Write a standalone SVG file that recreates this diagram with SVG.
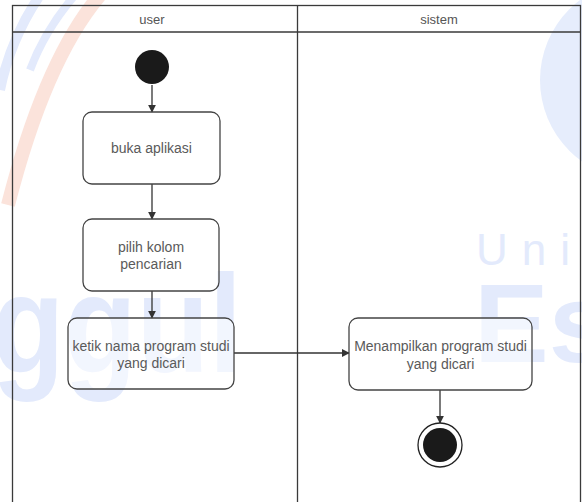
<svg xmlns="http://www.w3.org/2000/svg" width="582" height="502" viewBox="0 0 582 502">
<style>
.lane{fill:none;stroke:#3a3a3a;stroke-width:1.3}
.box{fill:#ffffff;fill-opacity:0.55;stroke:#444;stroke-width:1.3}
.t{font-family:"Liberation Sans",Arial,sans-serif;font-size:14px;fill:#5a5a5a;text-anchor:middle}
.h{font-family:"Liberation Sans",Arial,sans-serif;font-size:13px;fill:#555;text-anchor:middle}
.c{fill:none;stroke:#333;stroke-width:1.3}
.wm{font-family:"Liberation Sans",Arial,sans-serif;fill:#e3eafc}
</style>
<defs>
<marker id="arr" viewBox="0 0 10 10" refX="9" refY="5" markerWidth="8" markerHeight="8" markerUnits="userSpaceOnUse" orient="auto">
<path d="M0,0 L10,5 L0,10 z" fill="#333"/>
</marker>
</defs>
<rect width="582" height="502" fill="#ffffff"/>
<g id="watermark">
<circle cx="640" cy="80" r="100" fill="#e6edfc"/>
<path d="M100,-5 Q45,60 8,205" fill="none" stroke="#fbe3db" stroke-width="14"/>
<path d="M40,-5 Q10,40 0,90" fill="none" stroke="#e3eafc" stroke-width="10"/>
<path d="M75,-5 Q45,30 30,70" fill="none" stroke="#e3eafc" stroke-width="8"/>
<text class="wm" x="-8" y="372" font-size="140" font-weight="bold" textLength="250" lengthAdjust="spacingAndGlyphs">ggul</text>
<text class="wm" x="474" y="362" font-size="112" font-weight="bold">Es</text>
<text class="wm" x="476" y="265" font-size="44" letter-spacing="14">Univ</text>
</g>
<g id="lanes">
<rect class="lane" x="12.5" y="5.5" width="568" height="510"/>
<line class="lane" x1="12.5" y1="32" x2="580.5" y2="32"/>
<line class="lane" x1="297.5" y1="5.5" x2="297.5" y2="510"/>
<text class="h" x="152" y="24">user</text>
<text class="h" x="439" y="24">sistem</text>
</g>
<g id="connectors">
<line class="c" x1="152" y1="85" x2="152" y2="112" marker-end="url(#arr)"/>
<line class="c" x1="152" y1="184" x2="152" y2="219" marker-end="url(#arr)"/>
<line class="c" x1="152" y1="291" x2="152" y2="318" marker-end="url(#arr)"/>
<line class="c" x1="234" y1="353" x2="349" y2="353" marker-end="url(#arr)"/>
<line class="c" x1="440" y1="390" x2="440" y2="423" marker-end="url(#arr)"/>
</g>
<g id="start">
<circle cx="152" cy="67" r="17" fill="#1a1a1a"/>
</g>
<g id="buka">
<rect class="box" x="83" y="112" width="137" height="72" rx="9"/>
<text class="t" x="151.5" y="153">buka aplikasi</text>
</g>
<g id="pilih">
<rect class="box" x="83" y="219" width="136" height="72" rx="9"/>
<text class="t" x="151" y="252">pilih kolom</text>
<text class="t" x="151" y="269">pencarian</text>
</g>
<g id="ketik">
<rect class="box" x="68" y="318" width="166" height="71" rx="9"/>
<text class="t" x="151" y="351">ketik nama program studi</text>
<text class="t" x="151" y="368">yang dicari</text>
</g>
<g id="menampilkan">
<rect class="box" x="349" y="318" width="183" height="72" rx="9"/>
<text class="t" x="440.5" y="351">Menampilkan program studi</text>
<text class="t" x="440.5" y="369">yang dicari</text>
</g>
<g id="end">
<circle cx="440" cy="445" r="22" fill="#ffffff" stroke="#222" stroke-width="1.3"/>
<circle cx="440" cy="445" r="17" fill="#1a1a1a"/>
</g>
</svg>
